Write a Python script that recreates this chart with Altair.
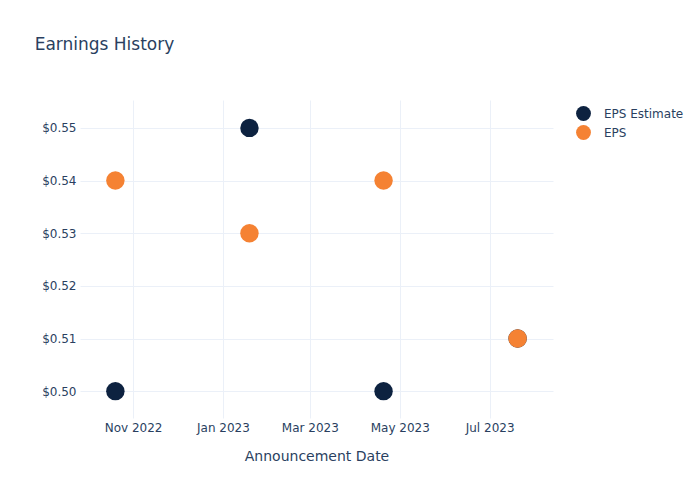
import altair as alt
import pandas as pd

dates = ["2022-10-20", "2023-01-19", "2023-04-20", "2023-07-20"]
eps_estimate = [0.50, 0.55, 0.50, 0.51]
eps_actual = [0.54, 0.53, 0.54, 0.51]
series_names = ["EPS Estimate", "EPS"]
series_colors = ["#0d2240", "#f58233"]
x_ticks = ["2022-11-01", "2023-01-01", "2023-03-01", "2023-05-01", "2023-07-01"]
y_ticks = [0.50, 0.51, 0.52, 0.53, 0.54, 0.55]

rows = []
for d, v in zip(dates, eps_estimate):
    rows.append({"date": d, "value": v, "series": "EPS Estimate", "order": 0})
for d, v in zip(dates, eps_actual):
    rows.append({"date": d, "value": v, "series": "EPS", "order": 1})
df = pd.DataFrame(rows)

FONT = "DejaVu Sans"
TXT = "#2a3f5f"
GRID = "#ebf0f8"

x_enc = alt.X(
    "date:T",
    title="Announcement Date",
    scale=alt.Scale(domain=["2022-09-26", "2023-08-13"]),
    axis=alt.Axis(
        values=[pd.Timestamp(t).value // 10**6 for t in x_ticks],
        format="%b %Y",
        labelFontSize=12,
        labelColor=TXT,
        labelFont=FONT,
        titleFont=FONT,
        titleFontSize=14,
        titleFontWeight="normal",
        titleColor=TXT,
        titlePadding=16,
        ticks=False,
        domain=False,
        gridColor=GRID,
        labelPadding=4,
    ),
)
y_enc = alt.Y(
    "value:Q",
    title=None,
    scale=alt.Scale(domain=[0.4949, 0.5553], nice=False, zero=False),
    axis=alt.Axis(
        values=y_ticks,
        format="$.2f",
        labelFontSize=12,
        labelColor=TXT,
        labelFont=FONT,
        ticks=False,
        domain=False,
        gridColor=GRID,
        labelPadding=4,
    ),
)

chart = (
    alt.Chart(df)
    .mark_circle(size=340, opacity=1)
    .encode(
        x=x_enc,
        y=y_enc,
        color=alt.Color(
            "series:N",
            scale=alt.Scale(domain=series_names, range=series_colors),
            legend=alt.Legend(
                title=None,
                orient="none",
                legendX=495,
                legendY=5,
                symbolType="circle",
                symbolSize=220,
                labelFontSize=12,
                labelColor=TXT,
                labelFont=FONT,
                labelOffset=12,
                rowPadding=3,
            ),
        ),
        order=alt.Order("order:Q"),
    )
    .properties(
        width=473,
        height=318,
        title=alt.TitleParams(
            "Earnings History",
            anchor="start",
            dx=-7,
            dy=-42,
            fontSize=17,
            font=FONT,
            fontWeight="normal",
            color=TXT,
        ),
        padding={"left": 80, "top": 100, "right": 147, "bottom": 82},
        autosize=alt.AutoSizeParams(type="none"),
    )
    .configure_view(stroke=None)
)

chart.save("out.html", embed_options={"renderer": "svg", "actions": False})
